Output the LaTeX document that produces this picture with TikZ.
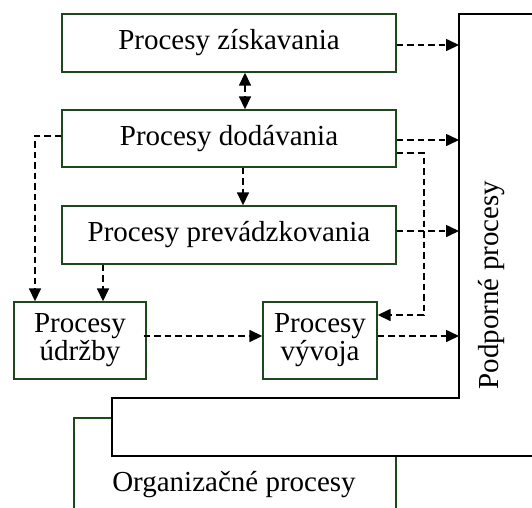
\documentclass[tikz,border=0pt]{standalone}
\usepackage{fontspec}
\setmainfont{Liberation Serif}
\usetikzlibrary{arrows.meta}
\definecolor{boxgreen}{RGB}{28,72,28}
\tikzset{
  procbox/.style={draw=boxgreen, line width=1.4pt, fill=white, inner sep=0pt,
    font=\fontsize{29}{28}\selectfont, align=center},
  flow/.style={line width=1.6pt, dash pattern=on 6.5pt off 4pt, -{Triangle[length=13pt,width=12pt]}},
  twoway/.style={line width=1.6pt, dash pattern=on 6.5pt off 4pt,
    {Triangle[length=13pt,width=12pt]}-{Triangle[length=13pt,width=12pt]}},
  biglabel/.style={font=\fontsize{29}{28}\selectfont, inner sep=0pt}
}
\begin{document}
\begin{tikzpicture}[x=1pt,y=-1pt]
\useasboundingbox (0,0) rectangle (532,507);
\clip (0,0) rectangle (532,507);

% organisational processes (underneath)
\draw[boxgreen, line width=1.4pt, fill=white] (74,418) rectangle (396,530);
\node[biglabel] (org) at (234,485) {Organizačné procesy};

% supporting processes, L-shaped frame on top
\draw[black, line width=1.7pt, fill=white]
  (459,14) -- (560,14) -- (560,456) -- (112,456) -- (112,398) -- (459,398) -- cycle;
\node[biglabel, rotate=90] (pod) at (492,285) {Podporné procesy};
\coordinate (pedge) at (459,0);

% process boxes
\node[procbox, minimum width=334pt, minimum height=58pt] (b1) at (229,43) {Procesy získavania};
\node[procbox, minimum width=334pt, minimum height=57pt] (b2) at (229,138.5) {Procesy dodávania};
\node[procbox, minimum width=334pt, minimum height=58pt] (b3) at (229,235) {Procesy prevádzkovania};
\node[procbox, minimum width=132pt, minimum height=77pt] (b4) at (80,340.5) {Procesy\\údržby};
\node[procbox, minimum width=114pt, minimum height=77pt] (b5) at (320,340.5) {Procesy\\vývoja};

% connectors to the supporting processes
\coordinate (s1) at ([yshift=-2pt]b1.east);
\draw[flow] (s1) -- (s1 -| pedge);
\coordinate (s3) at ([yshift=-1.5pt]b2.east);
\draw[flow] (s3) -- (s3 -| pedge);
\coordinate (s7) at ([yshift=4pt]b3.east);
\draw[flow] (s7) -- (s7 -| pedge);
\coordinate (s10) at ([yshift=4.5pt]b5.east);
\draw[flow] (s10) -- (s10 -| pedge);

% connectors between the processes
\draw[twoway] ([xshift=16pt]b1.south) -- ([xshift=16pt]b2.north);
\draw[flow] ([xshift=14pt]b2.south) -- ([xshift=14pt]b3.north);
\coordinate (s4) at ([yshift=-14.5pt]b2.east);
\coordinate (t4) at ([yshift=25.5pt]b5.east);
\coordinate (k4) at ([xshift=27pt]s4);
\draw[flow] (s4) -- (k4) |- (t4);
\draw[flow] ([yshift=2.5pt]b2.west) -| ([xshift=-45pt]b4.north);
\coordinate (t8) at ([xshift=23pt]b4.north);
\draw[flow] (b3.south -| t8) -- (t8);
\draw[flow] ([yshift=4.5pt,xshift=-3pt]b4.east) -- ([yshift=4.5pt]b5.west);
\end{tikzpicture}
\end{document}
